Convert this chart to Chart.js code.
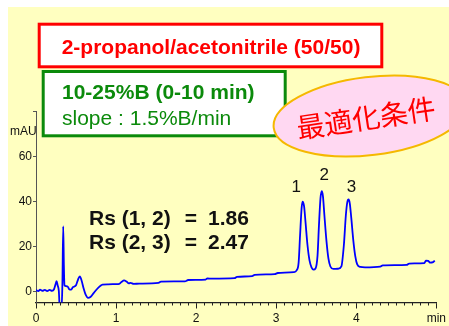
<!DOCTYPE html>
<html>
<head>
<meta charset="utf-8">
<script src="https://cdn.jsdelivr.net/npm/chart.js@4/dist/chart.umd.min.js"></script>
<style>
  html, body { margin: 0; padding: 0; background: #ffffff; }
  #wrap { width: 449px; height: 326px; }
</style>
</head>
<body>
<div id="wrap"><canvas id="chrom" width="449" height="326"></canvas></div>
<script>
// Chromatogram trace: retention time (min) and detector response (mAU)
const retentionTimes = [
  0.00, 0.03, 0.05, 0.08, 0.11, 0.14, 0.17, 0.20, 0.225, 0.245,
  0.257, 0.27, 0.285, 0.298, 0.318, 0.330, 0.340, 0.348, 0.356, 0.375,
  0.40, 0.415, 0.44, 0.46, 0.50, 0.525, 0.547, 0.57, 0.595, 0.62,
  0.65, 0.68, 0.72, 0.76, 0.80, 0.83, 0.90, 1.00, 1.04, 1.07,
  1.10, 1.13, 1.16, 1.18, 1.22, 1.29, 1.53, 1.56, 1.86, 1.90,
  2.12, 2.14, 2.20, 2.48, 2.51, 2.70, 2.73, 2.98, 3.02, 3.22,
  3.255, 3.28, 3.298, 3.317, 3.329, 3.348, 3.366, 3.391, 3.416, 3.441,
  3.466, 3.491, 3.516, 3.534, 3.553, 3.569, 3.584, 3.602, 3.627, 3.652,
  3.677, 3.714, 3.776, 3.814, 3.845, 3.870, 3.888, 3.904, 3.919, 3.938,
  3.963, 3.988, 4.012, 4.05, 4.11, 4.30, 4.33, 4.63, 4.66, 4.85,
  4.87, 4.90, 4.92, 4.96, 4.98
];
const responseMAU = [
  0.9, 0.4, 1.0, 0.5, 0.9, 0.4, 0.9, 0.5, 1.2, 3.5,
  4.8, 3.0, 0.5, -8, -8, 4, 29.1, 12, 3.0, 2.6,
  2.2, 1.2, 1.0, 2.1, 3.0, 5.5, 6.9, 5.0, 1.5, -1.2,
  -2.6, -2.2, -0.5, 1.2, 2.6, 3.3, 3.4, 3.5, 3.6, 4.5,
  5.1, 4.6, 3.8, 4.0, 3.6, 3.7, 4.0, 4.6, 4.7, 5.3,
  5.5, 6.0, 5.9, 6.1, 6.7, 7.0, 7.6, 7.9, 8.4, 8.8,
  9.6, 13, 25, 37, 40, 38, 31, 20.7, 14, 10.9,
  9.9, 10.4, 16, 29.5, 41.5, 44.7, 42.4, 34, 22.9, 14.9,
  11.3, 10.2, 10.3, 11.3, 20.7, 34, 39.8, 41, 39.3, 32.7,
  22.9, 15.8, 12.2, 11.1, 10.9, 11.2, 11.8, 12.0, 12.6, 12.8,
  13.9, 13.8, 13.0, 13.2, 13.9
];

// Axis ticks
const xTickValues = [0, 1, 2, 3, 4, 5];
const xTickLabels = ['0', '1', '2', '3', '4', 'min'];
const yTickValues = [0, 20, 40, 60, 80];
const yTickLabels = ['0', '20', '40', '60', ''];

// Peak numbering
const peakNames = ['1', '2', '3'];
const peakLabelTimes = [3.25, 3.60, 3.94];
const peakLabelLevels = [46.6, 51.5, 46.6];

// Resolution results
const resolutionPairs = ['Rs (1, 2)', 'Rs (2, 3)'];
const resolutionValues = ['1.86', '2.47'];
const resolutionLevels = [32.3, 21.8];

// Method annotations
const mobilePhaseText = '2-propanol/acetonitrile (50/50)';
const gradientText = '10-25%B (0-10 min)';
const slopeText = 'slope : 1.5%B/min';
const badgeText = '最適化条件';

const points = retentionTimes.map((t, i) => ({ x: t, y: responseMAU[i] }));

const BASE_FONT = '"Liberation Sans", Arial, sans-serif';

const panelPlugin = {
  id: 'panel',
  beforeDraw(chart) {
    const ctx = chart.ctx;
    ctx.save();
    ctx.fillStyle = '#ffffff';
    ctx.fillRect(0, 0, chart.width, chart.height);
    ctx.fillStyle = '#FFFFC0';
    ctx.fillRect(8, 7, chart.width - 8, chart.height - 7);
    ctx.restore();
  }
};

const minorTickPlugin = {
  id: 'minorTicks',
  afterDraw(chart) {
    const ctx = chart.ctx;
    const xs = chart.scales.x;
    const y0 = xs.top;
    ctx.save();
    ctx.strokeStyle = '#222';
    ctx.lineWidth = 1;
    for (let i = 1; i < 50; i++) {
      if (i % 10 === 0) continue;
      const px = Math.round(xs.getPixelForValue(i / 10)) + 0.5;
      ctx.beginPath();
      ctx.moveTo(px, y0);
      ctx.lineTo(px, y0 + 3);
      ctx.stroke();
    }
    ctx.restore();
  }
};

const annotationPlugin = {
  id: 'annotations',
  afterDraw(chart) {
    const ctx = chart.ctx;
    const xs = chart.scales.x;
    const ys = chart.scales.y;
    ctx.save();

    // unit label
    ctx.fillStyle = '#111';
    ctx.font = '12px ' + BASE_FONT;
    ctx.textAlign = 'left';
    ctx.textBaseline = 'middle';
    ctx.fillText('mAU', 10, 132);

    // mobile phase box
    ctx.fillStyle = '#ffffff';
    ctx.fillRect(39, 24, 343, 43);
    ctx.strokeStyle = '#FF0000';
    ctx.lineWidth = 3;
    ctx.strokeRect(39.2, 24.2, 342.6, 42.6);
    ctx.fillStyle = '#FF0000';
    ctx.font = 'bold 21px ' + BASE_FONT;
    ctx.textAlign = 'center';
    ctx.fillText(mobilePhaseText, 211, 48);

    // gradient box
    ctx.fillStyle = '#ffffff';
    ctx.fillRect(43, 71.5, 242, 64.3);
    ctx.strokeStyle = '#0B8A0B';
    ctx.lineWidth = 3;
    ctx.strokeRect(43.2, 71.5, 242, 64.3);
    ctx.fillStyle = '#0B8A0B';
    ctx.textAlign = 'left';
    ctx.font = 'bold 21px ' + BASE_FONT;
    ctx.fillText(gradientText, 62, 93);
    ctx.font = '21px ' + BASE_FONT;
    ctx.fillText(slopeText, 62, 119);

    // optimized-conditions badge
    ctx.save();
    ctx.beginPath();
    ctx.ellipse(370, 116, 97, 39, -7 * Math.PI / 180, 0, Math.PI * 2);
    ctx.fillStyle = '#FFD8F2';
    ctx.fill();
    ctx.strokeStyle = '#F5B800';
    ctx.lineWidth = 2;
    ctx.stroke();
    ctx.translate(366, 118);
    ctx.rotate(-8.5 * Math.PI / 180);
    ctx.fillStyle = '#FF0000';
    ctx.font = '28px "Noto Sans CJK JP", sans-serif';
    ctx.textAlign = 'center';
    ctx.textBaseline = 'middle';
    ctx.fillText(badgeText, 0, 0);
    ctx.restore();

    // peak numbers
    ctx.fillStyle = '#111';
    ctx.font = '17px ' + BASE_FONT;
    ctx.textAlign = 'center';
    ctx.textBaseline = 'middle';
    peakNames.forEach((name, i) => {
      ctx.fillText(name, xs.getPixelForValue(peakLabelTimes[i]), ys.getPixelForValue(peakLabelLevels[i]));
    });

    // resolution values
    ctx.font = 'bold 21px ' + BASE_FONT;
    ctx.textAlign = 'left';
    resolutionPairs.forEach((pair, i) => {
      const py = ys.getPixelForValue(resolutionLevels[i]);
      ctx.fillText(pair, 89, py);
      ctx.textAlign = 'center';
      ctx.fillText('=', 191, py);
      ctx.textAlign = 'left';
      ctx.fillText(resolutionValues[i], 208, py);
    });

    ctx.restore();
  }
};

new Chart(document.getElementById('chrom'), {
  type: 'line',
  data: {
    datasets: [{
      data: points,
      borderColor: '#0000FF',
      borderWidth: 1.8,
      pointRadius: 0,
      cubicInterpolationMode: 'monotone',
      fill: false
    }]
  },
  options: {
    responsive: false,
    animation: false,
    devicePixelRatio: 1,
    layout: { padding: { left: 0, right: 10.5, top: 111.5, bottom: 0 } },
    plugins: { legend: { display: false }, tooltip: { enabled: false } },
    scales: {
      x: {
        type: 'linear',
        min: 0,
        max: 5,
        afterBuildTicks: s => { s.ticks = xTickValues.map(v => ({ value: v })); },
        afterFit: s => { s.height = 23.5; },
        ticks: {
          autoSkip: false,
          maxRotation: 0,
          padding: 3,
          color: '#111',
          font: { family: BASE_FONT, size: 12 },
          callback: (v, i) => xTickLabels[i]
        },
        grid: { drawOnChartArea: false, drawTicks: true, tickLength: 6, tickColor: '#222' },
        border: { color: '#222', width: 1.2 }
      },
      y: {
        min: -4.67,
        max: 80,
        afterBuildTicks: s => { s.ticks = yTickValues.map(v => ({ value: v })); },
        afterFit: s => { s.width = 36; },
        ticks: {
          autoSkip: false,
          padding: 1,
          color: '#111',
          font: { family: BASE_FONT, size: 12 },
          callback: (v, i) => yTickLabels[i]
        },
        grid: { drawOnChartArea: false, drawTicks: true, tickLength: 3, tickColor: '#555' },
        border: { color: '#555', width: 1 }
      }
    }
  },
  plugins: [panelPlugin, minorTickPlugin, annotationPlugin]
});
</script>
</body>
</html>
